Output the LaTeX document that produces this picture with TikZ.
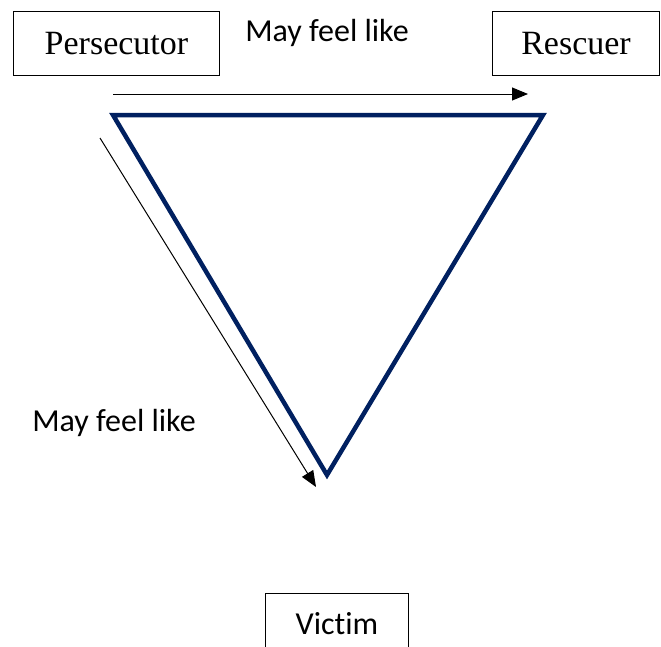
\documentclass[tikz,border=0pt]{standalone}
\usepackage{fontspec}
\setmainfont{Carlito}[Ligatures=NoCommon]
\newfontfamily\boxserif{Liberation Serif}
\usetikzlibrary{arrows.meta}
\definecolor{navy}{RGB}{0,32,96}
\begin{document}
\begin{tikzpicture}[x=1pt,y=-1pt,
  rolebox/.style={draw,line width=1pt,inner sep=0pt,anchor=north west},
  lbl/.style={font=\fontsize{32}{38}\selectfont,inner sep=0pt},
  arr/.style={line width=1pt,-{Triangle[length=16pt,width=13pt]}}]
\useasboundingbox (0,0) rectangle (661,646);
\begin{scope}
\clip (0,0) rectangle (661,646);
\node[rolebox,minimum width=206pt,minimum height=64pt] (pers) at (13,11) {};
\node[font=\boxserif\fontsize{34}{40}\selectfont] (perst) at (pers.center) {Persecutor};
\node[rolebox,minimum width=167pt,minimum height=64pt] (resc) at (492,11) {};
\node[font=\boxserif\fontsize{34}{40}\selectfont] (resct) at (resc.center) {Rescuer};
\node[rolebox,minimum width=143pt,minimum height=70pt] (vict) at (265,593) {};
\node[lbl] (victt) at (337,624) {Victim};
\end{scope}
\node[lbl] (t1) at (327,33) {May feel like};
\node[lbl] (t2) at (114,423) {May feel like};
\coordinate (a) at (113,115);
\coordinate (b) at (543,115);
\coordinate (c) at (327,475);
\draw[navy,line width=4.5pt,line join=miter] (a) -- (b) -- (c) -- cycle;
\coordinate (s1) at (113,94);
\coordinate (e1) at (528,94);
\draw[arr] (s1) -- (e1);
\coordinate (s2) at (100,138);
\coordinate (e2) at (316,487);
\draw[arr] (s2) -- (e2);
\end{tikzpicture}
\end{document}
